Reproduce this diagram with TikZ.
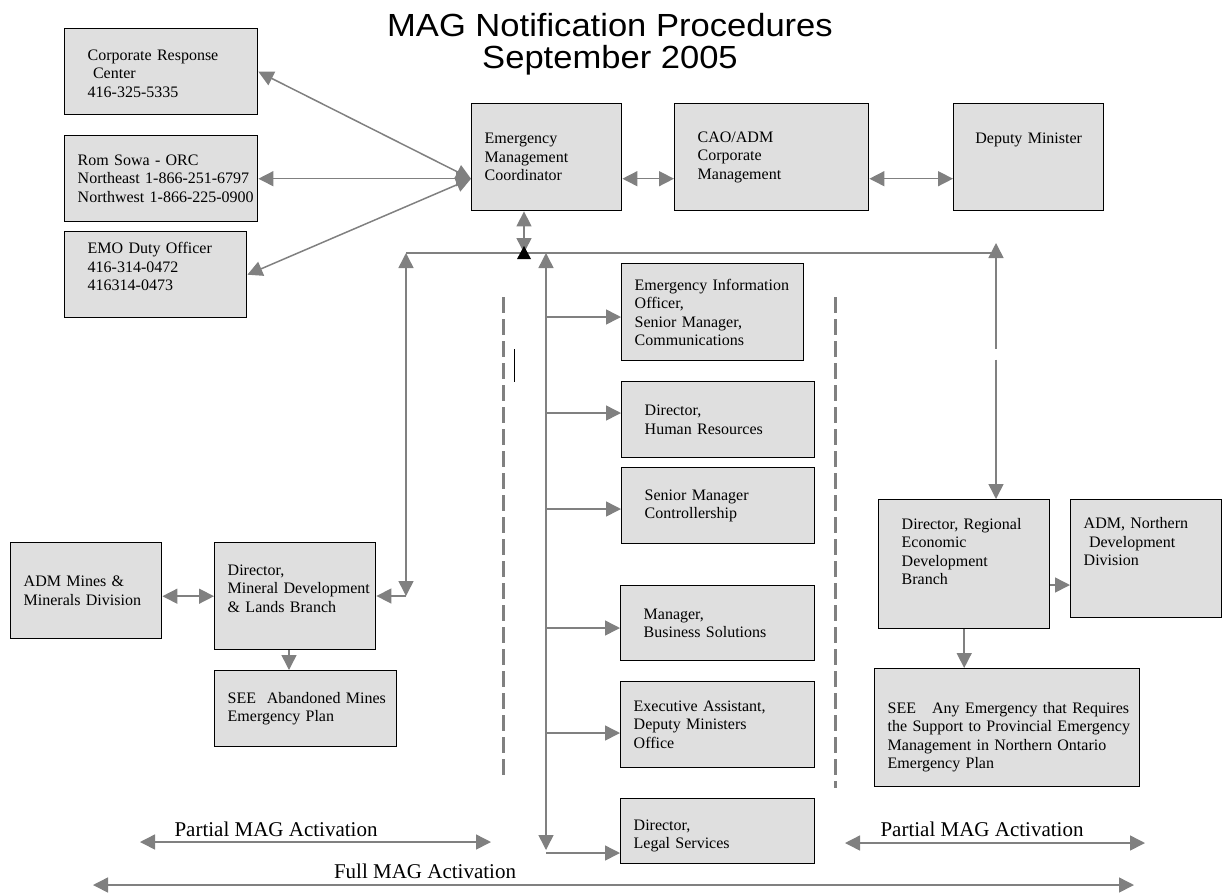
\documentclass[tikz,border=0pt]{standalone}
\usepackage{fontspec}
\setmainfont{Liberation Serif}
\newfontfamily\titlefont[FakeStretch=1.08]{Liberation Sans}
\usetikzlibrary{arrows.meta}
\newcommand{\padline}[1]{\\[#1]\mbox{}}
\newcommand{\padtop}[1]{\mbox{}\\[#1]}

\begin{document}
\begin{tikzpicture}
      [
        x=1pt, y=-1pt,
        >={Triangle[length=15pt,width=15pt]},
        box/.style={draw=black, line width=1.4pt, fill=gray!25, anchor=north west, align=left, inner ysep=0pt, font=\fontsize{16}{18.5}\selectfont},
        padn/.style={inner xsep=13pt},
        padw/.style={inner xsep=23pt},
        link/.style={draw=gray, line width=1.5pt},
        sep/.style={draw=gray, line width=3pt, dash pattern=on 16pt off 6pt},
        caption/.style={anchor=base, font=\fontsize{21}{24}\selectfont}
      ]
      \useasboundingbox (0,0) rectangle (1228,892);
      \node[font=\titlefont\fontsize{32}{32}\selectfont, align=center] (title) at (610,44) {MAG Notification Procedures\\September 2005};
      % top row
      \node[box, padw, text width=147pt, minimum height=86pt] (crc) at (64,28) {\padtop{-4.5pt}Corporate Response\\~Center\\416-325-5335};
      \node[box, padn, text width=167pt, minimum height=86pt] (rom) at (64,135) {Rom Sowa - ORC\\\mbox{Northeast 1-866-251-6797}\\\mbox{Northwest 1-866-225-0900}};
      \node[box, padw, text width=136pt, minimum height=86pt] (emo) at (64,231) {EMO Duty Officer\\416-314-0472\\416314-0473\padline{-2.5pt}};
      \node[box, padn, text width=124pt, minimum height=107pt] (emc) at (471,103) {Emergency\\Management\\Coordinator};
      \node[box, padw, text width=148pt, minimum height=107pt] (cao) at (674,103) {CAO/ADM\\Corporate\\Management};
      \node[box, padn, text width=124pt, minimum height=107pt, align=center] (dm) at (953,103) {Deputy Minister\padline{19.5pt}};
      % centre column
      \node[box, padn, text width=156pt, minimum height=97pt] (eio) at (621,263) {\mbox{Emergency Information}\\Officer,\\Senior Manager,\\Communications};
      \node[box, padw, text width=147pt, minimum height=76pt] (hr) at (621,381) {Director,\\Human Resources};
      \node[box, padw, text width=147pt, minimum height=76pt] (smc) at (621,467) {Senior Manager\\Controllership};
      \node[box, padw, text width=148pt, minimum height=75pt] (mbs) at (620,585) {Manager,\\Business Solutions};
      \node[box, padn, text width=168pt, minimum height=86pt] (exa) at (620,681) {Executive Assistant,\\Deputy Ministers\\Office};
      \node[box, padn, text width=168pt, minimum height=65pt] (legal) at (620,798) {\padtop{1.5pt}Director,\\Legal Services};
      % left side
      \node[box, padn, text width=125pt, minimum height=96pt] (admm) at (10,542) {ADM Mines \&\\Minerals Division};
      \node[box, padn, text width=135pt, minimum height=107pt] (dirmin) at (214,542) {Director,\\\mbox{Mineral Development}\\\& Lands Branch\padline{-2.5pt}};
      \node[box, padn, text width=156pt, minimum height=76pt] (seeab) at (214,670) {\mbox{SEE\ \ Abandoned Mines}\\Emergency Plan};
      % right side
      \node[box, padw, text width=125pt, minimum height=129pt] (reg) at (878,499) {Director, Regional\\Economic\\Development\\Branch\padline{7.5pt}};
      \node[box, padn, text width=125pt, minimum height=118pt] (adn) at (1070,499) {ADM, Northern\\~Development\\Division\padline{15.5pt}};
      \node[box, padn, text width=239pt, minimum height=118pt] (seeany) at (874,668) {\padtop{11.5pt}\mbox{SEE\ \ \ Any Emergency that Requires}\\\mbox{the Support to Provincial Emergency}\\Management in Northern Ontario\\Emergency Plan};
      % hub points
      \coordinate (emcin) at ([yshift=-21.5pt]emc.west);
      \coordinate (hubw) at (406,253);
      \coordinate (hubc) at (524,253);
      \coordinate (trunk) at (546,253);
      \coordinate (hube) at (996,253);
      \coordinate (rtop) at (996,243);
      \coordinate (bendl) at (406,596);
      \coordinate (trunkend) at (546,850);
      \coordinate (trunkb) at (546,853);
      % connectors
      \draw[link, <->] (emcin) -- (crc.east);
      \draw[link, <->] (emcin) -- (rom.east);
      \draw[link, <->] (emcin) -- (emo.east);
      \draw[link, <->] ([yshift=-21.5pt]emc.east) -- ([yshift=-21.5pt]cao.west);
      \draw[link, <->] ([yshift=-21.5pt]cao.east) -- ([yshift=-21.5pt]dm.west);
      \draw[link] (hubw) -- (hube);
      \draw[link, <->] (emc.south -| hubc) -- (hubc);
      \fill[black] (517,259) -- (531,259) -- (524,246) -- cycle;
      \draw[link, <->] (hubw) -- (bendl);
      \draw[link, ->] (bendl) -- (dirmin.east |- bendl);
      \draw[link, <->] (admm.east |- dirmin.west) -- (dirmin.west);
      \draw[link, ->] (289,0 |- dirmin.south) -- (289,0 |- seeab.north);
      \draw[link, <->] (trunk) -- (trunkend);
      \foreach \b/\y in {eio/317, hr/413, smc/509, mbs/628, exa/733}
        \draw[link, ->] (trunk |- 0,\y) -- (\b.west |- 0,\y);
      \draw[link, ->] (trunkb) -- (legal.west |- trunkb);
      \draw[link, <->, dash pattern=on 91pt off 11pt on 400pt] (rtop) -- (rtop |- reg.north);
      \draw[link, ->] (reg.east |- 0,585) -- (adn.west |- 0,585);
      \draw[link, ->] (reg.south) -- (reg.south |- seeany.north);
      % separators
      \draw[sep] (503,297) -- (503,777);
      \draw[sep] (835,297) -- (835,788);
      \draw[black, line width=1pt] (514,349) -- (514,382);
      % activation ranges
      \node[caption] (partl) at (276,836) {Partial MAG Activation};
      \node[caption] (partr) at (982,836) {Partial MAG Activation};
      \node[caption] (full) at (425,878) {Full MAG Activation};
      \coordinate (pl1) at (140,842);
      \coordinate (pl2) at (491,842);
      \coordinate (pr1) at (845,843);
      \coordinate (pr2) at (1145,843);
      \coordinate (fa1) at (93,885);
      \coordinate (fa2) at (1134,885);
      \draw[link, <->] (pl1) -- (pl2);
      \draw[link, <->] (pr1) -- (pr2);
      \draw[link, <->] (fa1) -- (fa2);
    \end{tikzpicture}
\end{document}
